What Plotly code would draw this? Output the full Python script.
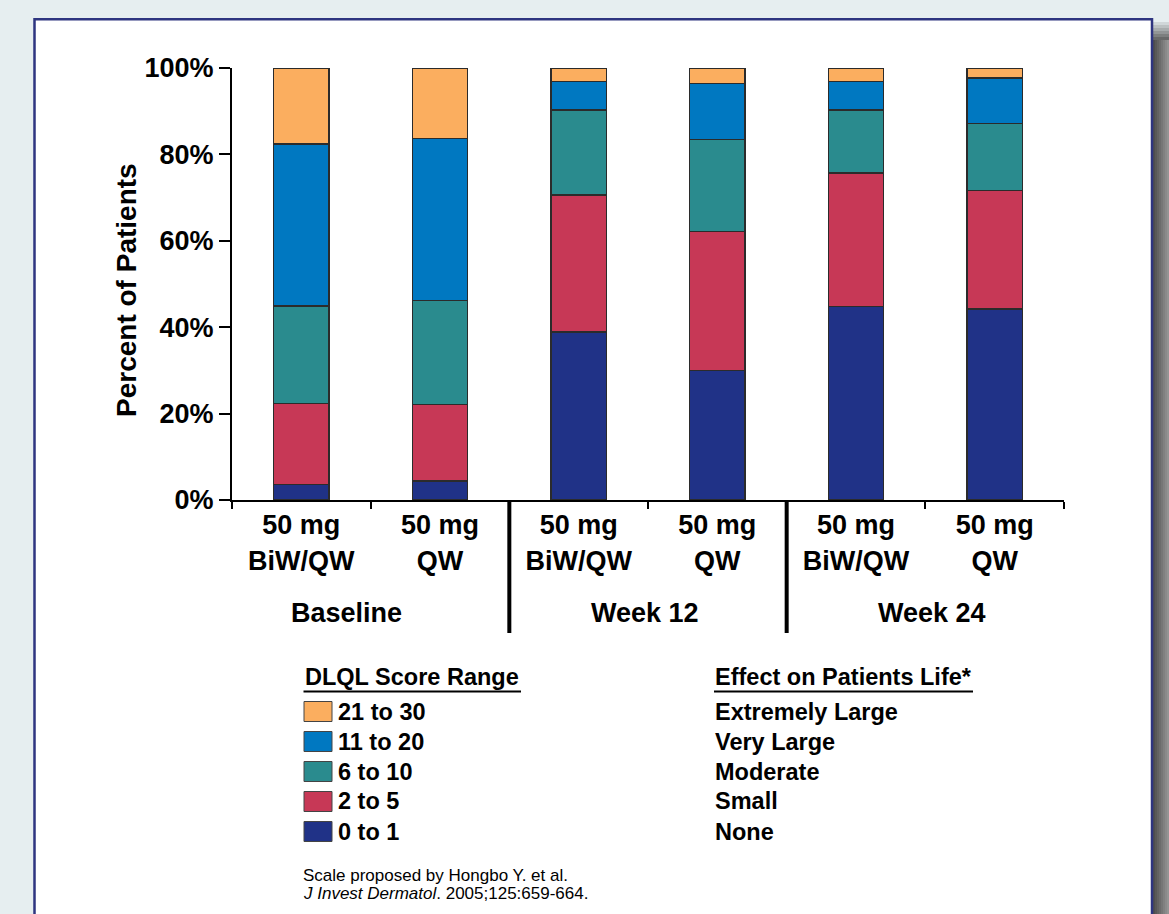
import plotly.graph_objects as go

# ---- data -------------------------------------------------------------
groups = ["Baseline", "Week 12", "Week 24"]
doses = ["50 mg<br>BiW/QW", "50 mg<br>QW"] * 3
score_ranges = ["0 to 1", "2 to 5", "6 to 10", "11 to 20", "21 to 30"]
effects = ["None", "Small", "Moderate", "Very Large", "Extremely Large"]
colors = ["#203287", "#C73856", "#2A8B8E", "#0078C1", "#FBAE5F"]

# percent of patients per score range (bottom to top), one value per bar
pct_0_1 = [3.5, 4.4, 38.9, 29.9, 44.8, 44.2]
pct_2_5 = [18.9, 17.8, 31.7, 32.3, 30.9, 27.4]
pct_6_10 = [22.5, 23.9, 19.7, 21.3, 14.6, 15.5]
pct_11_20 = [37.5, 37.5, 6.6, 12.9, 6.6, 10.6]
pct_21_30 = [17.6, 16.4, 3.1, 3.6, 3.1, 2.3]
series = [pct_0_1, pct_2_5, pct_6_10, pct_11_20, pct_21_30]

y_ticks = [0, 20, 40, 60, 80, 100]

# ---- page geometry (pixels) -------------------------------------------
W, H = 1169, 914
L, R, T, B = 232, 1064, 68, 500
FONT = "Arial, Liberation Sans, sans-serif"
group_label_x = [346, 645, 932]


def px_x(x):
    return (x - L) / (R - L)


def px_y(y):
    return (B - y) / (B - T)


xpos = list(range(len(doses)))

fig = go.Figure()
for name, vals, col in zip(score_ranges, series, colors):
    fig.add_trace(go.Bar(
        x=xpos, y=vals, name=name, width=0.4,
        marker=dict(color=col, line=dict(color="#2b2b2b", width=1.2)),
        showlegend=False,
    ))

shapes = []
# page shadow on the right of the panel
for i in range(8):
    g = int(78 + i * 10)
    shapes.append(dict(type="rect", xref="paper", yref="paper", layer="below",
                       x0=px_x(1153 + i * 2), x1=px_x(1155 + i * 2),
                       y0=px_y(40), y1=px_y(930),
                       fillcolor=f"rgb({g},{g},{g})", line=dict(width=0)))
for i in range(6):
    a = 0.15 + i * 0.15
    shapes.append(dict(type="rect", xref="paper", yref="paper", layer="below",
                       x0=px_x(1153), x1=px_x(1169),
                       y0=px_y(22 + i * 3), y1=px_y(25 + i * 3),
                       fillcolor=f"rgba(90,90,90,{a:.2f})", line=dict(width=0)))
# white panel with navy frame
shapes.append(dict(type="rect", xref="paper", yref="paper", layer="below",
                   x0=px_x(34.5), x1=px_x(1152), y0=px_y(19.3), y1=px_y(960),
                   fillcolor="white", line=dict(color="#2E3580", width=2.5)))
# group separators below the category axis
for xs in [1.5, 3.5]:
    shapes.append(dict(type="line", xref="x", yref="paper",
                       x0=xs, x1=xs, y0=0, y1=px_y(633),
                       line=dict(color="black", width=4)))

annotations = []
# y axis title
annotations.append(dict(text="<b>Percent of Patients</b>", xref="paper", yref="paper",
                        x=px_x(126), y=px_y(290), textangle=-90, showarrow=False,
                        xanchor="center", yanchor="middle",
                        font=dict(family=FONT, size=28, color="black")))
# group labels
for g, gx in zip(groups, group_label_x):
    annotations.append(dict(text=f"<b>{g}</b>", xref="paper", yref="paper",
                            x=px_x(gx), y=px_y(613), showarrow=False,
                            xanchor="center", yanchor="middle",
                            font=dict(family=FONT, size=27, color="black")))

# legend: score ranges with colour boxes
annotations.append(dict(text="<b>DLQL Score Range</b>", xref="paper", yref="paper",
                        x=px_x(303), y=px_y(677), showarrow=False,
                        xanchor="left", yanchor="middle",
                        font=dict(family=FONT, size=23.5, color="black")))
shapes.append(dict(type="line", xref="paper", yref="paper",
                   x0=px_x(303.5), x1=px_x(521), y0=px_y(691.5), y1=px_y(691.5),
                   line=dict(color="black", width=2)))
annotations.append(dict(text="<b>Effect on Patients Life*</b>", xref="paper", yref="paper",
                        x=px_x(713), y=px_y(677), showarrow=False,
                        xanchor="left", yanchor="middle",
                        font=dict(family=FONT, size=23.5, color="black")))
shapes.append(dict(type="line", xref="paper", yref="paper",
                   x0=px_x(714), x1=px_x(973), y0=px_y(691.5), y1=px_y(691.5),
                   line=dict(color="black", width=2)))

for row, k in enumerate(reversed(range(len(score_ranges)))):
    yc = 711.5 + row * 30
    shapes.append(dict(type="rect", xref="paper", yref="paper",
                       x0=px_x(304), x1=px_x(332), y0=px_y(yc - 10), y1=px_y(yc + 10),
                       fillcolor=colors[k], line=dict(color="#444444", width=1)))
    annotations.append(dict(text=f"<b>{score_ranges[k]}</b>", xref="paper", yref="paper",
                            x=px_x(336), y=px_y(yc), showarrow=False,
                            xanchor="left", yanchor="middle",
                            font=dict(family=FONT, size=23.5, color="black")))
    annotations.append(dict(text=f"<b>{effects[k]}</b>", xref="paper", yref="paper",
                            x=px_x(713), y=px_y(yc), showarrow=False,
                            xanchor="left", yanchor="middle",
                            font=dict(family=FONT, size=23.5, color="black")))

# source note
annotations.append(dict(text="Scale proposed by Hongbo Y. et al.", xref="paper", yref="paper",
                        x=px_x(301), y=px_y(875), showarrow=False,
                        xanchor="left", yanchor="middle",
                        font=dict(family=FONT, size=17, color="black")))
annotations.append(dict(text="<i>J Invest Dermatol</i>. 2005;125:659-664.",
                        xref="paper", yref="paper",
                        x=px_x(301), y=px_y(893), showarrow=False,
                        xanchor="left", yanchor="middle",
                        font=dict(family=FONT, size=17, color="black")))

fig.update_layout(
    width=W, height=H,
    margin=dict(l=L, r=W - R, t=T, b=H - B),
    paper_bgcolor="#E6EEF0",
    plot_bgcolor="rgba(0,0,0,0)",
    barmode="stack",
    bargap=0.6,
    shapes=shapes,
    annotations=annotations,
    xaxis=dict(
        range=[-0.5, len(doses) - 0.5],
        tickvals=xpos, ticktext=[f"<b>{d}</b>" for d in doses],
        ticks="", ticklen=0,
        tickfont=dict(family=FONT, size=27, color="black"),
        showline=True, linecolor="black", linewidth=2,
        showgrid=False, zeroline=False,
        minor=dict(tickvals=[i - 0.5 for i in range(len(doses) + 1)],
                   ticks="outside", ticklen=7, tickwidth=2, tickcolor="black",
                   showgrid=False),
    ),
    yaxis=dict(
        range=[0, 100],
        tickvals=y_ticks, ticktext=[f"<b>{v}%</b>" for v in y_ticks],
        ticks="outside", ticklen=11, tickwidth=2, tickcolor="black",
        tickfont=dict(family=FONT, size=27, color="black"),
        showline=True, linecolor="black", linewidth=2,
        showgrid=False, zeroline=False,
    ),
)

fig.write_html("out.html")
